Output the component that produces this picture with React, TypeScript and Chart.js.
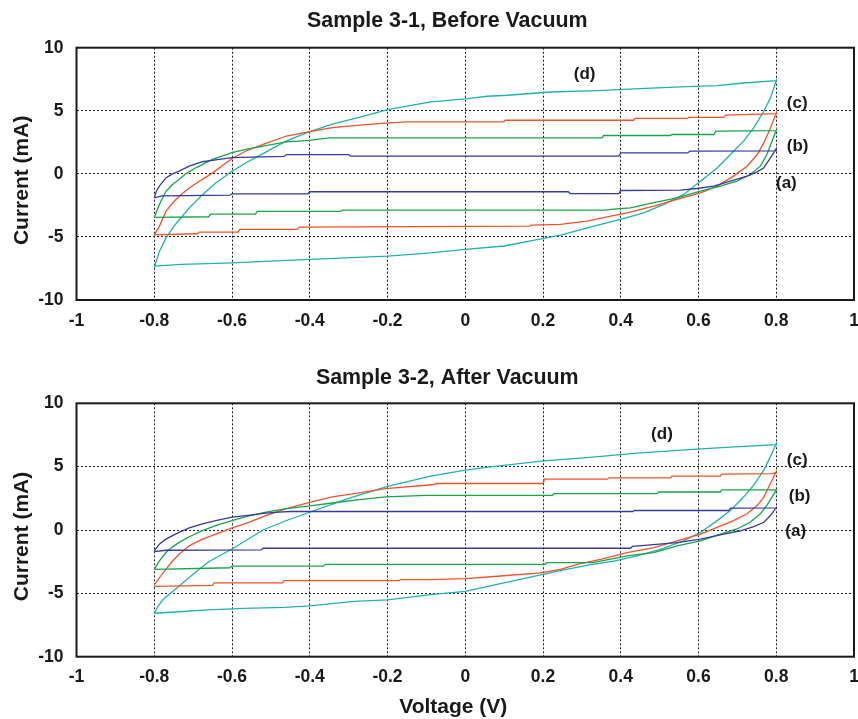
import React, { useEffect, useRef } from 'react';
import { Chart, registerables } from 'chart.js';
Chart.register(...registerables);

type P = [number, number];

const xTicks = [-1, -0.8, -0.6, -0.4, -0.2, 0, 0.2, 0.4, 0.6, 0.8, 1];
const yTicks = [-10, -5, 0, 5, 10];
const seriesLabels = ['(a)', '(b)', '(c)', '(d)'];
const seriesColors = ['#353b97', '#17a34a', '#f0532b', '#1fb1ac'];
const topTitle = 'Sample 3-1, Before Vacuum';
const bottomTitle = 'Sample 3-2, After Vacuum';
const xTitle = 'Voltage (V)';
const yTitle = 'Current (mA)';

// Sample 3-1 loops (voltage V, current mA)
const topA: P[] = [
  [-0.8, -1.9], [-0.795, -1.4], [-0.787, -0.98], [-0.77, -0.32], [-0.753, 0.0], [-0.736, 0.21], [-0.71, 0.61], [-0.676, 0.96], [-0.633, 1.14], [-0.6, 1.28], [-0.55, 1.33], [-0.466, 1.38], [-0.46, 1.53], [-0.3, 1.53], [-0.295, 1.4], [0.395, 1.4], [0.4, 1.66], [0.572, 1.66], [0.578, 1.8], [0.8, 1.82],
  [0.8, 2.0], [0.792, 1.6], [0.785, 1.27], [0.768, 0.48], [0.751, 0.16], [0.725, -0.18], [0.682, -0.58], [0.639, -0.97], [0.596, -1.16], [0.553, -1.29], [0.4, -1.32], [0.395, -1.56], [0.27, -1.56], [0.265, -1.42], [-0.4, -1.42], [-0.405, -1.58], [-0.6, -1.58], [-0.605, -1.69], [-0.78, -1.75], [-0.8, -1.9],
];
const topB: P[] = [
  [-0.8, -3.46], [-0.787, -2.45], [-0.77, -1.38], [-0.753, -0.85], [-0.736, -0.45], [-0.719, 0.0], [-0.693, 0.48], [-0.65, 1.14], [-0.6, 1.68], [-0.564, 1.94], [-0.52, 2.2], [-0.46, 2.53], [-0.4, 2.65], [-0.35, 2.85], [0.352, 2.85], [0.356, 3.04], [0.528, 3.04], [0.532, 3.12], [0.64, 3.12], [0.644, 3.38], [0.8, 3.42],
  [0.8, 3.46], [0.789, 2.59], [0.776, 1.53], [0.759, 0.61], [0.733, -0.05], [0.699, -0.58], [0.656, -0.97], [0.605, -1.37], [0.545, -1.9], [0.485, -2.29], [0.425, -2.69], [0.374, -2.82], [0.36, -2.87], [-0.316, -2.87], [-0.32, -2.97], [-0.535, -2.97], [-0.54, -3.2], [-0.655, -3.2], [-0.66, -3.4], [-0.8, -3.45],
];
const topC: P[] = [
  [-0.8, -4.84], [-0.787, -4.18], [-0.77, -2.98], [-0.753, -2.31], [-0.736, -1.78], [-0.71, -1.12], [-0.684, -0.59], [-0.65, 0.08], [-0.6, 1.22], [-0.564, 1.81], [-0.52, 2.34], [-0.46, 3.0], [-0.4, 3.35], [-0.342, 3.67], [-0.273, 3.86], [-0.205, 4.02], [-0.15, 4.12], [0.099, 4.12], [0.103, 4.25], [0.433, 4.25], [0.437, 4.39], [0.571, 4.39], [0.575, 4.47], [0.665, 4.47], [0.67, 4.65], [0.8, 4.78],
  [0.8, 4.83], [0.785, 3.64], [0.768, 2.45], [0.751, 1.53], [0.725, 0.61], [0.69, -0.18], [0.648, -0.97], [0.605, -1.5], [0.545, -2.03], [0.485, -2.56], [0.416, -3.09], [0.374, -3.35], [0.313, -3.75], [0.245, -4.01], [0.17, -4.06], [0.165, -4.14], [-0.427, -4.22], [-0.432, -4.4], [-0.58, -4.4], [-0.585, -4.62], [-0.684, -4.62], [-0.69, -4.75], [-0.8, -4.84],
];
const topD: P[] = [
  [-0.8, -7.42], [-0.787, -6.17], [-0.77, -5.1], [-0.753, -4.31], [-0.736, -3.64], [-0.71, -2.71], [-0.676, -1.65], [-0.642, -0.72], [-0.6, 0.21], [-0.564, 0.88], [-0.52, 1.6], [-0.46, 2.61], [-0.4, 3.35], [-0.342, 3.94], [-0.273, 4.47], [-0.2, 5.1], [-0.089, 5.7], [0, 5.94], [0.057, 6.15], [0.108, 6.23], [0.22, 6.49], [0.34, 6.6], [0.45, 6.76], [0.553, 6.89], [0.648, 7.0], [0.716, 7.2], [0.8, 7.39],
  [0.8, 7.4], [0.785, 6.02], [0.768, 4.96], [0.742, 3.64], [0.716, 2.59], [0.682, 1.53], [0.648, 0.47], [0.605, -0.58], [0.562, -1.63], [0.511, -2.42], [0.459, -3.09], [0.399, -3.61], [0.331, -4.14], [0.245, -4.85], [0.202, -5.12], [0.1, -5.72], [0, -5.99], [-0.089, -6.26], [-0.2, -6.52], [-0.4, -6.78], [-0.6, -7.05], [-0.73, -7.18], [-0.8, -7.31],
];

// Sample 3-2 loops
const botA: P[] = [
  [-0.8, -1.65], [-0.787, -1.12], [-0.77, -0.72], [-0.753, -0.45], [-0.736, -0.19], [-0.71, 0.16], [-0.676, 0.48], [-0.642, 0.74], [-0.6, 1.01], [-0.564, 1.14], [-0.513, 1.33], [-0.48, 1.41], [-0.45, 1.46], [0.431, 1.46], [0.435, 1.54], [0.678, 1.54], [0.682, 1.72], [0.8, 1.74],
  [0.8, 1.76], [0.785, 1.14], [0.768, 0.61], [0.742, 0.26], [0.708, -0.06], [0.665, -0.32], [0.605, -0.72], [0.545, -0.99], [0.476, -1.17], [0.43, -1.3], [0.425, -1.44], [-0.52, -1.44], [-0.525, -1.57], [-0.77, -1.6], [-0.8, -1.7],
];
const botB: P[] = [
  [-0.8, -3.11], [-0.787, -2.45], [-0.77, -1.78], [-0.753, -1.33], [-0.736, -0.98], [-0.71, -0.53], [-0.676, -0.05], [-0.642, 0.35], [-0.6, 0.74], [-0.564, 1.06], [-0.513, 1.41], [-0.46, 1.68], [-0.4, 1.91], [-0.342, 2.13], [-0.273, 2.39], [-0.205, 2.61], [-0.1, 2.74], [0.224, 2.74], [0.228, 2.87], [0.494, 2.87], [0.498, 3.0], [0.656, 3.0], [0.66, 3.16], [0.8, 3.16],
  [0.8, 3.14], [0.789, 2.6], [0.776, 1.94], [0.759, 1.28], [0.733, 0.61], [0.699, 0.08], [0.656, -0.32], [0.605, -0.85], [0.545, -1.25], [0.485, -1.79], [0.416, -2.05], [0.348, -2.45], [0.33, -2.58], [0.21, -2.58], [0.205, -2.71], [-0.36, -2.71], [-0.365, -2.85], [-0.6, -2.85], [-0.605, -2.98], [-0.8, -3.11],
];
const botC: P[] = [
  [-0.8, -4.36], [-0.787, -3.78], [-0.77, -3.11], [-0.753, -2.45], [-0.736, -1.91], [-0.71, -1.25], [-0.676, -0.72], [-0.642, -0.32], [-0.6, 0.16], [-0.564, 0.53], [-0.513, 1.14], [-0.46, 1.68], [-0.4, 2.18], [-0.342, 2.61], [-0.273, 2.93], [-0.205, 3.27], [-0.08, 3.59], [-0.075, 3.67], [0.2, 3.67], [0.204, 4.01], [0.365, 4.01], [0.37, 4.12], [0.528, 4.12], [0.532, 4.25], [0.656, 4.25], [0.66, 4.41], [0.79, 4.45], [0.8, 4.55],
  [0.8, 4.6], [0.785, 3.67], [0.768, 2.6], [0.751, 1.94], [0.725, 1.28], [0.69, 0.74], [0.648, 0.21], [0.605, -0.32], [0.545, -0.85], [0.485, -1.39], [0.416, -1.79], [0.348, -2.32], [0.288, -2.71], [0.245, -3.11], [0.194, -3.38], [0.082, -3.65], [0, -3.83], [-0.089, -3.91], [-0.166, -3.91], [-0.17, -3.99], [-0.466, -3.99], [-0.47, -4.18], [-0.646, -4.18], [-0.65, -4.37], [-0.8, -4.45],
];
const botD: P[] = [
  [-0.8, -6.57], [-0.79, -6.0], [-0.775, -5.4], [-0.75, -4.8], [-0.72, -4.0], [-0.7, -3.5], [-0.66, -2.5], [-0.6, -1.5], [-0.56, -0.75], [-0.52, 0.0], [-0.46, 0.75], [-0.4, 1.4], [-0.3, 2.5], [-0.2, 3.45], [-0.089, 4.25], [0, 4.73], [0.048, 4.92], [0.202, 5.45], [0.313, 5.71], [0.442, 6.06], [0.596, 6.38], [0.682, 6.54], [0.8, 6.73],
  [0.8, 6.81], [0.785, 5.79], [0.768, 4.73], [0.742, 3.54], [0.716, 2.6], [0.682, 1.54], [0.648, 0.74], [0.605, -0.19], [0.562, -0.85], [0.502, -1.52], [0.442, -2.05], [0.382, -2.45], [0.313, -2.8], [0.254, -3.15], [0.194, -3.55], [0.082, -4.3], [0, -4.84], [-0.089, -5.1], [-0.2, -5.51], [-0.286, -5.64], [-0.4, -5.99], [-0.466, -6.1], [-0.57, -6.18], [-0.662, -6.31], [-0.757, -6.49], [-0.8, -6.57],
];

// label anchor positions (V, mA) for (a)..(d)
const topLabelPos: P[] = [[0.826, -0.72], [0.855, 2.2], [0.854, 5.6], [0.307, 7.9]];
const botLabelPos: P[] = [[0.85, -0.08], [0.86, 2.68], [0.854, 5.48], [0.506, 7.53]];

const FONT = '"Liberation Sans", Arial, Helvetica, sans-serif';
const INK = '#1a1a1a';

const framePlugin = {
  id: 'frameAndLabels',
  afterDatasetsDraw(chart: any, _args: any, opts: any) {
    const { ctx, chartArea: a, scales } = chart;
    ctx.save();
    ctx.strokeStyle = INK;
    ctx.lineWidth = 2;
    ctx.setLineDash([]);
    ctx.strokeRect(a.left, a.top, a.right - a.left, a.bottom - a.top);
    ctx.fillStyle = INK;
    ctx.textAlign = 'center';
    ctx.textBaseline = 'middle';
    ctx.font = `bold 17px ${FONT}`;
    (opts.labels || []).forEach((p: P, i: number) => {
      ctx.fillText(seriesLabels[i], scales.x.getPixelForValue(p[0]), scales.y.getPixelForValue(p[1]));
    });
    const cx = (a.left + a.right) / 2;
    const cy = (a.top + a.bottom) / 2;
    // panel title
    ctx.font = `bold 21.4px ${FONT}`;
    ctx.fillText(opts.title, cx - 18, a.top - opts.titleGap);
    // x title
    if (opts.xTitle) {
      ctx.font = `bold 21px ${FONT}`;
      ctx.fillText(opts.xTitle, cx - 12, chart.height - 12);
    }
    // y title
    ctx.font = `bold 21px ${FONT}`;
    ctx.translate(22.5, cy + 6.5);
    ctx.rotate(-Math.PI / 2);
    ctx.fillText(yTitle, 0, 0);
    ctx.restore();
  },
};

type PanelProps = {
  title: string;
  loops: P[][];
  labelPos: P[];
  showXTitle: boolean;
  top: number;
  height: number;
  areaTop: number;
  titleGap: number;
  xAxisHeight: number;
  xTickPad: number;
};

function Panel(props: PanelProps) {
  const ref = useRef<HTMLCanvasElement>(null);
  useEffect(() => {
    const canvas = ref.current!;
    const chart = new Chart(canvas, {
      type: 'scatter',
      data: {
        datasets: props.loops.map((loop, i) => ({
          label: seriesLabels[i],
          data: loop.map(([x, y]) => ({ x, y })),
          showLine: true,
          borderColor: seriesColors[i],
          backgroundColor: seriesColors[i],
          borderWidth: 1.3,
          pointRadius: 0,
          tension: 0,
          fill: false,
        })),
      },
      options: {
        responsive: false,
        animation: false,
        layout: { padding: { left: 0, right: 4, top: props.areaTop, bottom: 0 } },
        plugins: {
          legend: { display: false },
          tooltip: { enabled: false },
          title: { display: false },
          frameAndLabels: {
            labels: props.labelPos,
            title: props.title,
            titleGap: props.titleGap,
            xTitle: props.showXTitle ? xTitle : '',
          },
        } as any,
        scales: {
          x: {
            type: 'linear',
            min: -1,
            max: 1,
            afterBuildTicks: (scale: any) => {
              scale.ticks = xTicks.map((v) => ({ value: v }));
            },
            afterFit: (scale: any) => {
              scale.height = props.xAxisHeight;
              scale.paddingRight = 0;
              scale.paddingLeft = 0;
            },
            ticks: {
              color: INK,
              font: { family: FONT, size: 17.5, weight: 'bold' },
              padding: props.xTickPad,
              maxRotation: 0,
              autoSkip: false,
              callback: (v: any) => String(v),
            },
            grid: { color: INK, lineWidth: 1, drawTicks: false },
            border: { display: false, dash: [2, 2] },
          },
          y: {
            type: 'linear',
            min: -10,
            max: 10,
            afterBuildTicks: (scale: any) => {
              scale.ticks = yTicks.map((v) => ({ value: v }));
            },
            afterFit: (scale: any) => {
              scale.width = 76.5;
            },
            ticks: {
              color: INK,
              font: { family: FONT, size: 17.5, weight: 'bold' },
              padding: 13,
              callback: (v: any) => String(v),
            },
            grid: { color: INK, lineWidth: 1, drawTicks: false },
            border: { display: false, dash: [2, 2] },
          },
        },
      } as any,
      plugins: [framePlugin],
    });
    return () => chart.destroy();
  }, []);
  return (
    <canvas
      ref={ref}
      width={858}
      height={props.height}
      style={{ position: 'absolute', left: 0, top: props.top, width: 858, height: props.height }}
    />
  );
}

export default function App() {
  return (
    <div style={{ position: 'fixed', left: 0, top: 0, width: 858, height: 719, background: '#ffffff', overflow: 'hidden' }}>
      <Panel
        title={topTitle}
        loops={[topA, topB, topC, topD]}
        labelPos={topLabelPos}
        showXTitle={false}
        top={0}
        height={352}
        areaTop={47.7}
        titleGap={26.7}
        xAxisHeight={52}
        xTickPad={10.5}
      />
      <Panel
        title={bottomTitle}
        loops={[botA, botB, botC, botD]}
        labelPos={botLabelPos}
        showXTitle={true}
        top={355}
        height={364}
        areaTop={48.3}
        titleGap={25.3}
        xAxisHeight={62.3}
        xTickPad={10}
      />
    </div>
  );
}
